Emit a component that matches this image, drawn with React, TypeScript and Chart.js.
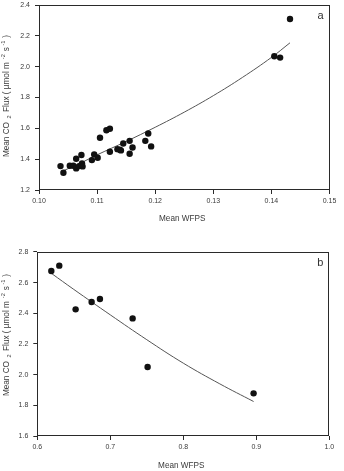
import React, { useEffect, useRef } from "react";
import { Chart, registerables } from "chart.js";

Chart.register(...registerables);

// Panel a: mean WFPS vs mean CO2 flux (observed)
const wfpsA = [
  0.1037, 0.1042, 0.1053, 0.1059, 0.1064, 0.1064, 0.1069, 0.1073, 0.1074, 0.1075,
  0.1091, 0.1095, 0.1101, 0.1105, 0.1116, 0.1122, 0.1122, 0.1135, 0.1139, 0.1141,
  0.1145, 0.1156, 0.1156, 0.1161, 0.1183, 0.1188, 0.1193, 0.1405, 0.1415, 0.1432,
];
const fluxA = [
  1.355, 1.312, 1.357, 1.357, 1.403, 1.340, 1.355, 1.427, 1.373, 1.353,
  1.394, 1.431, 1.409, 1.539, 1.588, 1.597, 1.448, 1.465, 1.461, 1.457,
  1.502, 1.519, 1.435, 1.476, 1.519, 1.567, 1.483, 2.068, 2.059, 2.309,
];
// Panel a: fitted curve
const fitWfpsA = [0.1042, 0.107, 0.11, 0.115, 0.12, 0.125, 0.13, 0.135, 0.14, 0.1432];
const fitFluxA = [1.325, 1.372, 1.428, 1.515, 1.607, 1.705, 1.812, 1.93, 2.06, 2.155];

// Panel b: observed
const wfpsB = [0.6192, 0.6301, 0.6525, 0.6744, 0.6858, 0.7306, 0.7511, 0.8963];
const fluxB = [2.676, 2.711, 2.426, 2.474, 2.493, 2.367, 2.05, 1.878];
// Panel b: fitted curve
const fitWfpsB = [0.6192, 0.65, 0.7, 0.75, 0.8, 0.85, 0.8963];
const fitFluxB = [2.661, 2.556, 2.39, 2.228, 2.075, 1.94, 1.825];

// Axis ranges and steps
const xRangeA = [0.1, 0.15];
const yRangeA = [1.2, 2.4];
const xRangeB = [0.6, 1.0];
const yRangeB = [1.6, 2.8];
const xStepA = 0.01;
const yStepA = 0.2;
const xStepB = 0.1;
const yStepB = 0.2;

const FONT = "'Liberation Sans', Arial, sans-serif";
const TICK_COLOR = "#3a3a3a";
const LINE_COLOR = "#2a2a2a";

type PanelSpec = {
  letter: string;
  xs: number[];
  ys: number[];
  fitX: number[];
  fitY: number[];
  xRange: number[];
  yRange: number[];
  xStep: number;
  yStep: number;
  xDecimals: number;
  yDecimals: number;
  yAxisWidth: number;
  xAxisHeight: number;
  padTop: number;
  padRight: number;
  xTitleY: number;
  yTitleCenter: number;
  height: number;
};

function drawYTitle(ctx: CanvasRenderingContext2D, cx: number, cy: number) {
  // Rotated title with subscript / superscripts
  const base = `8.2px ${FONT}`;
  const small = `5.6px ${FONT}`;
  const parts: { t: string; small: boolean; dy: number; gapBefore: number }[] = [
    { t: "Mean CO", small: false, dy: 0, gapBefore: 0 },
    { t: "2", small: true, dy: 2.6, gapBefore: 3.5 },
    { t: "Flux ( µmol m", small: false, dy: 0, gapBefore: 3.5 },
    { t: "-2", small: true, dy: -4, gapBefore: 3 },
    { t: "s", small: false, dy: 0, gapBefore: 3 },
    { t: "-1", small: true, dy: -4, gapBefore: 1.5 },
    { t: ")", small: false, dy: 0, gapBefore: 3 },
  ];
  let total = 0;
  const widths: number[] = [];
  for (const p of parts) {
    ctx.font = p.small ? small : base;
    const w = ctx.measureText(p.t).width;
    widths.push(w);
    total += w + p.gapBefore;
  }
  ctx.save();
  ctx.translate(cx, cy);
  ctx.rotate(-Math.PI / 2);
  ctx.fillStyle = TICK_COLOR;
  ctx.textBaseline = "middle";
  ctx.textAlign = "left";
  let x = -total / 2;
  parts.forEach((p, i) => {
    x += p.gapBefore;
    ctx.font = p.small ? small : base;
    ctx.fillText(p.t, x, p.dy);
    x += widths[i];
  });
  ctx.restore();
}

function makeConfig(s: PanelSpec): any {
  const decor = {
    id: "panelDecor",
    afterDraw(chart: any) {
      const { ctx, chartArea: a } = chart;
      ctx.save();
      ctx.strokeStyle = LINE_COLOR;
      ctx.lineWidth = 1;
      const l = Math.round(a.left) + 0.5;
      const t = Math.round(a.top) + 0.5;
      const r = Math.round(a.right) - 0.5;
      const b = Math.round(a.bottom) - 0.5;
      ctx.strokeRect(l, t, r - l, b - t);
      // panel letter
      ctx.fillStyle = "#333";
      ctx.font = `11px ${FONT}`;
      ctx.textAlign = "center";
      ctx.textBaseline = "middle";
      ctx.fillText(s.letter, a.right - 9, a.top + 11);
      // x title
      ctx.fillStyle = TICK_COLOR;
      ctx.font = `8.2px ${FONT}`;
      ctx.fillText("Mean WFPS", (a.left + a.right) / 2 - 2, s.xTitleY);
      ctx.restore();
      drawYTitle(ctx, 7, s.yTitleCenter);
    },
  };

  return {
    type: "scatter",
    data: {
      datasets: [
        {
          type: "line",
          data: s.fitX.map((x, i) => ({ x, y: s.fitY[i] })),
          borderColor: "#555",
          borderWidth: 1,
          pointRadius: 0,
          fill: false,
          tension: 0.4,
          order: 2,
        },
        {
          type: "scatter",
          data: s.xs.map((x, i) => ({ x, y: s.ys[i] })),
          backgroundColor: "#111",
          borderColor: "#111",
          borderWidth: 0,
          pointRadius: 3.2,
          order: 1,
        },
      ],
    },
    options: {
      animation: false,
      responsive: false,
      maintainAspectRatio: false,
      events: [],
      layout: {
        padding: { left: 0, right: s.padRight, top: s.padTop, bottom: 0 },
      },
      plugins: {
        legend: { display: false },
        tooltip: { enabled: false },
        title: { display: false },
      },
      scales: {
        x: {
          type: "linear",
          min: s.xRange[0],
          max: s.xRange[1],
          afterFit(scale: any) {
            scale.height = s.xAxisHeight;
          },
          afterBuildTicks(scale: any) {
            const ticks = [];
            const n = Math.round((s.xRange[1] - s.xRange[0]) / s.xStep);
            for (let i = 0; i <= n; i++) ticks.push({ value: s.xRange[0] + i * s.xStep });
            scale.ticks = ticks;
          },
          ticks: {
            callback: (v: number) => Number(v).toFixed(s.xDecimals),
            font: { family: FONT, size: 7 },
            color: TICK_COLOR,
            padding: 3,
            maxRotation: 0,
            autoSkip: false,
          },
          grid: {
            drawOnChartArea: false,
            drawTicks: true,
            tickLength: 4,
            color: LINE_COLOR,
          },
          border: { display: false },
        },
        y: {
          type: "linear",
          min: s.yRange[0],
          max: s.yRange[1],
          afterFit(scale: any) {
            scale.width = s.yAxisWidth;
          },
          afterBuildTicks(scale: any) {
            const ticks = [];
            const n = Math.round((s.yRange[1] - s.yRange[0]) / s.yStep);
            for (let i = 0; i <= n; i++) ticks.push({ value: s.yRange[0] + i * s.yStep });
            scale.ticks = ticks;
          },
          ticks: {
            callback: (v: number) => Number(v).toFixed(s.yDecimals),
            font: { family: FONT, size: 7, lineHeight: 0.01 },
            color: TICK_COLOR,
            padding: 5,
            autoSkip: false,
          },
          grid: {
            drawOnChartArea: false,
            drawTicks: true,
            tickLength: 4,
            color: LINE_COLOR,
          },
          border: { display: false },
        },
      },
    },
    plugins: [decor],
  };
}

function Panel({ spec, top }: { spec: PanelSpec; top: number }) {
  const ref = useRef<HTMLCanvasElement | null>(null);
  useEffect(() => {
    if (!ref.current) return;
    const chart = new Chart(ref.current, makeConfig(spec));
    return () => chart.destroy();
  }, [spec]);
  return (
    <div style={{ position: "absolute", left: 0, top, width: 344, height: spec.height }}>
      <canvas ref={ref} width={344} height={spec.height} style={{ display: "block" }} />
    </div>
  );
}

const panelA: PanelSpec = {
  letter: "a",
  xs: wfpsA,
  ys: fluxA,
  fitX: fitWfpsA,
  fitY: fitFluxA,
  xRange: xRangeA,
  yRange: yRangeA,
  xStep: xStepA,
  yStep: yStepA,
  xDecimals: 2,
  yDecimals: 1,
  yAxisWidth: 39,
  xAxisHeight: 50,
  padTop: 4.7,
  padRight: 14.5,
  xTitleY: 219,
  yTitleCenter: 96,
  height: 240,
};

const panelB: PanelSpec = {
  letter: "b",
  xs: wfpsB,
  ys: fluxB,
  fitX: fitWfpsB,
  fitY: fitFluxB,
  xRange: xRangeB,
  yRange: yRangeB,
  xStep: xStepB,
  yStep: yStepB,
  xDecimals: 1,
  yDecimals: 1,
  yAxisWidth: 37.3,
  xAxisHeight: 35,
  padTop: 12,
  padRight: 14.7,
  xTitleY: 226,
  yTitleCenter: 95,
  height: 231,
};

export default function App() {
  return (
    <div
      style={{
        position: "fixed",
        left: 0,
        top: 0,
        width: 344,
        height: 471,
        background: "#fff",
        overflow: "hidden",
      }}
    >
      <Panel spec={panelA} top={0} />
      <Panel spec={panelB} top={240} />
    </div>
  );
}
